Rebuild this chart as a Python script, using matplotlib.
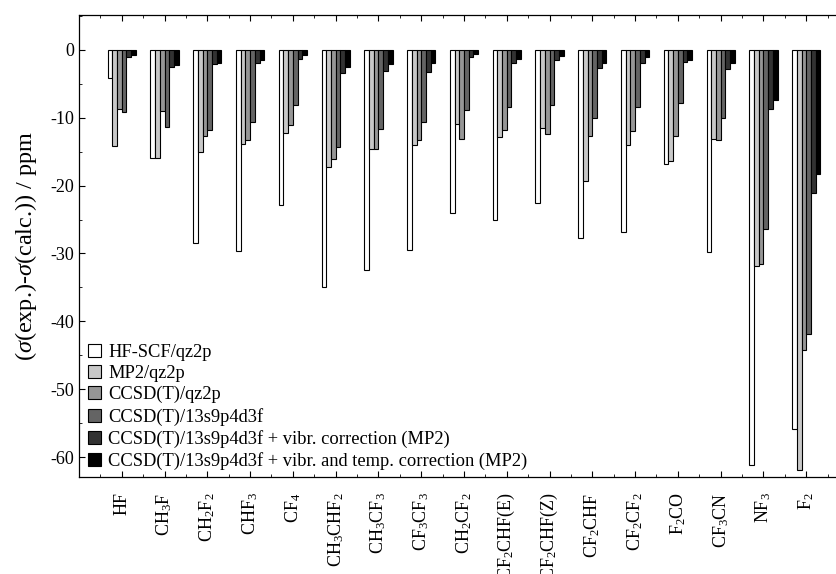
import matplotlib
matplotlib.use("Agg")
import matplotlib.pyplot as plt
import numpy as np
from matplotlib.ticker import MultipleLocator, FixedLocator

plt.rcParams["font.family"] = ["Liberation Serif", "DejaVu Serif"]
plt.rcParams["mathtext.fontset"] = "custom"
plt.rcParams["mathtext.rm"] = "Liberation Serif"
plt.rcParams["mathtext.it"] = "Liberation Serif:italic"
plt.rcParams["mathtext.bf"] = "Liberation Serif:bold"
plt.rcParams["axes.unicode_minus"] = False

molecules = ["HF", "CH$_3$F", "CH$_2$F$_2$", "CHF$_3$", "CF$_4$", "CH$_3$CHF$_2$",
             "CH$_3$CF$_3$", "CF$_3$CF$_3$", "CH$_2$CF$_2$", "CF$_2$CHF(E)",
             "CF$_2$CHF(Z)", "CF$_2$CHF", "CF$_2$CF$_2$", "F$_2$CO", "CF$_3$CN",
             "NF$_3$", "F$_2$"]

hf_scf = [-4.1, -15.9, -28.4, -29.6, -22.9, -35.0, -32.4, -29.5, -24.0, -25.1,
          -22.6, -27.7, -26.9, -16.8, -29.8, -61.1, -55.8]
mp2 = [-14.2, -15.9, -15.1, -13.9, -12.2, -17.2, -14.6, -14.1, -11.0, -12.9,
       -11.6, -19.4, -14.0, -16.35, -13.2, -31.8, -61.9]
ccsdt_qz2p = [-8.8, -9.0, -12.7, -13.3, -11.1, -16.1, -14.6, -13.3, -13.1, -11.8,
              -12.4, -12.7, -12.0, -12.7, -13.3, -31.6, -44.2]
ccsdt_large = [-9.2, -11.35, -11.8, -10.7, -8.2, -14.3, -11.7, -10.7, -8.9, -8.4,
               -8.2, -10.0, -8.4, -7.9, -10.0, -26.4, -41.9]
ccsdt_vib = [-1.1, -2.6, -2.1, -1.9, -1.35, -3.45, -3.1, -3.3, -1.1, -1.9,
             -1.5, -2.7, -2.0, -1.8, -2.9, -8.75, -21.15]
ccsdt_vib_temp = [-0.75, -2.3, -1.9, -1.5, -0.8, -2.55, -2.1, -1.9, -0.7, -1.35,
                  -0.9, -1.9, -1.1, -1.5, -2.0, -7.4, -18.3]

series_names = ["HF-SCF/qz2p", "MP2/qz2p", "CCSD(T)/qz2p", "CCSD(T)/13s9p4d3f",
                "CCSD(T)/13s9p4d3f + vibr. correction (MP2)",
                "CCSD(T)/13s9p4d3f + vibr. and temp. correction (MP2)"]
series = [hf_scf, mp2, ccsdt_qz2p, ccsdt_large, ccsdt_vib, ccsdt_vib_temp]
colors = ["#ffffff", "#c8c8c8", "#969696", "#646464", "#323232", "#000000"]

W, H = 837, 574
fig = plt.figure(figsize=(W / 100, H / 100), dpi=100)
ax = fig.add_axes([79 / W, 1 - 477 / H, 770 / W, 462 / H])

x = np.arange(len(molecules))
width = 0.11
for i, (vals, name, col) in enumerate(zip(series, series_names, colors)):
    ax.bar(x + (i - 2.5) * width, vals, width, color=col, edgecolor="black",
           linewidth=0.8, label=name)

ax.set_xlim(-1, 17)
ax.set_ylim(-62.9, 5.1)
ax.set_xticks(x)
ax.set_xticklabels(molecules, rotation=90, fontsize=13)
ax.xaxis.set_minor_locator(FixedLocator(np.arange(-0.5, 17, 1.0)))
ax.yaxis.set_major_locator(MultipleLocator(10))
ax.yaxis.set_minor_locator(MultipleLocator(5))
ax.tick_params(which="both", direction="in", top=True, right=False, labelsize=13)
ax.tick_params(which="major", length=4, width=0.8)
ax.tick_params(which="minor", length=2, width=0.6)
ax.tick_params(axis="x", which="major", pad=11)
ax.spines["right"].set_visible(False)
for s in ("left", "bottom", "top"):
    ax.spines[s].set_linewidth(0.9)

ax.set_ylabel(r"($\sigma$(exp.)-$\sigma$(calc.)) / ppm", fontsize=17.5, labelpad=8)

ax.legend(loc="lower left", bbox_to_anchor=(88 / W, 104 / H),
          bbox_transform=fig.transFigure, frameon=False, fontsize=13.3,
          borderpad=0, borderaxespad=0, handlelength=0.7, handleheight=0.7,
          handletextpad=0.4, labelspacing=0.23)

fig.savefig("out.png", dpi=100)
